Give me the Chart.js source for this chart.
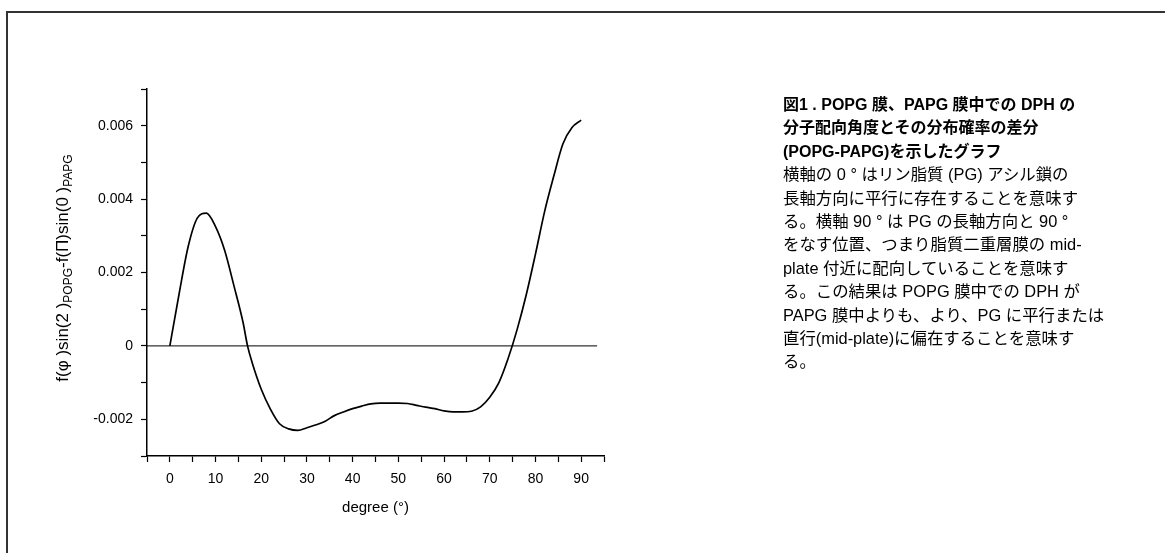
<!DOCTYPE html>
<html lang="ja">
<head>
<meta charset="utf-8">
<script src="https://cdn.jsdelivr.net/npm/chart.js@4.4.1/dist/chart.umd.min.js"></script>
<style>
    html, body { margin: 0; padding: 0; background: #fff; }
    body { width: 1165px; height: 553px; position: relative; overflow: hidden; }
    #frame {
        position: absolute; left: 6px; top: 11px; width: 1200px; height: 600px;
        border-top: 2px solid #333; border-left: 2px solid #333;
    }
    #chart { position: absolute; left: 0; top: 0; }
    #caption {
        position: absolute; left: 783px; top: 93px;
        font-family: "Liberation Sans", Arial, "Noto Sans CJK JP", sans-serif;
        font-size: 16.4px; line-height: 23.4px; color: #000; white-space: nowrap;
    }
    #caption b { font-weight: bold; font-size: 16px; }
</style>
</head>
<body>
<div id="frame"></div>
<canvas id="chart" width="1165" height="553"></canvas>
<div id="caption">
<b>図1 . POPG 膜、PAPG 膜中での DPH の<br>
分子配向角度とその分布確率の差分<br>
(POPG-PAPG)を示したグラフ</b><br>
横軸の 0 ° はリン脂質 (PG) アシル鎖の<br>
長軸方向に平行に存在することを意味す<br>
る。横軸 90 ° は PG の長軸方向と 90 °<br>
をなす位置、つまり脂質二重層膜の mid-<br>
plate 付近に配向していることを意味す<br>
る。この結果は POPG 膜中での DPH が<br>
PAPG 膜中よりも、より、PG に平行または<br>
直行(mid-plate)に偏在することを意味す<br>
る。
</div>
<script>
// degree (x) and POPG - PAPG difference (y)
const degrees = [0, 2, 4, 6, 8, 10, 12, 14, 16, 17, 18, 20, 22, 24, 26, 28, 30, 32, 34, 36, 38,
    40, 42, 44, 46, 48, 50, 52, 54, 56, 58, 60, 62, 64, 66, 68, 70, 72, 74, 76, 78, 80,
    82, 84, 86, 88, 90];
const diffValues = [0, 0.00140, 0.00270, 0.00348, 0.00362, 0.00325, 0.00260, 0.00165, 0.00065, 0,
    -0.00045, -0.00118, -0.00172, -0.00212, -0.00226, -0.00230, -0.00223, -0.00215, -0.00205,
    -0.00190, -0.00180, -0.00171, -0.00164, -0.00158, -0.00156, -0.00156, -0.00156, -0.00157,
    -0.00162, -0.00167, -0.00171, -0.00177, -0.00180, -0.00180, -0.00178, -0.00166, -0.00140,
    -0.00100, -0.00035, 0.00045, 0.00140, 0.00250, 0.00366, 0.00462, 0.00550, 0.00595, 0.00615];

const zeroLineX = [-5, 93.5];
const xMin = -5, xMax = 95, xStep = 5;
const yMin = -0.003, yMax = 0.007, yStep = 0.001;

const yTitleParts = [
    { text: 'f(φ )sin(2 )', sub: false },
    { text: 'POPG', sub: true },
    { text: '-f(Π)sin(0 )', sub: false },
    { text: 'PAPG', sub: true }
];

const fontFamily = '"Liberation Sans", Arial, sans-serif';

const yTitlePlugin = {
    id: 'yTitle',
    afterDraw(chart) {
        const ctx = chart.ctx;
        const mainFont = '17px ' + fontFamily;
        const subFont = '12px ' + fontFamily;
        ctx.save();
        let total = 0;
        yTitleParts.forEach(p => {
            ctx.font = p.sub ? subFont : mainFont;
            total += ctx.measureText(p.text).width;
        });
        ctx.translate(68, 268);
        ctx.rotate(-Math.PI / 2);
        ctx.fillStyle = '#000';
        ctx.textBaseline = 'alphabetic';
        let x = -total / 2;
        yTitleParts.forEach(p => {
            ctx.font = p.sub ? subFont : mainFont;
            ctx.fillText(p.text, x, p.sub ? 4 : 0);
            x += ctx.measureText(p.text).width;
        });
        ctx.restore();
    }
};

const ctx = document.getElementById('chart').getContext('2d');
new Chart(ctx, {
    type: 'line',
    data: {
        datasets: [{
            data: degrees.map((d, i) => ({ x: d, y: diffValues[i] })),
            borderColor: '#000',
            borderWidth: 1.7,
            pointRadius: 0,
            cubicInterpolationMode: 'monotone',
            fill: false
        }, {
            data: zeroLineX.map(d => ({ x: d, y: 0 })),
            borderColor: '#000',
            borderWidth: 1,
            pointRadius: 0,
            fill: false
        }]
    },
    options: {
        responsive: false,
        animation: false,
        layout: { padding: { left: 47, right: 561, top: 89, bottom: 32 } },
        plugins: {
            legend: { display: false },
            tooltip: { enabled: false }
        },
        scales: {
            x: {
                type: 'linear',
                min: xMin,
                max: xMax,
                afterFit: s => { s.height = 65; },
                border: { display: true, color: '#000', width: 1.5 },
                grid: { drawOnChartArea: false, drawTicks: true, tickLength: 6, color: '#000', tickColor: '#000', tickWidth: 1.2 },
                ticks: {
                    stepSize: xStep,
                    autoSkip: false,
                    maxRotation: 0,
                    padding: 9,
                    color: '#000',
                    font: { family: fontFamily, size: 14 },
                    callback: v => (Math.round(v) % 10 === 0 && v >= 0 && v <= 90) ? String(Math.round(v)) : ''
                },
                title: {
                    display: true,
                    text: 'degree (°)',
                    color: '#000',
                    font: { family: fontFamily, size: 15 },
                    padding: { top: 4, bottom: 4 }
                }
            },
            y: {
                min: yMin,
                max: yMax,
                afterFit: s => { s.width = 100; },
                border: { display: true, color: '#000', width: 1.5 },
                grid: { drawOnChartArea: false, drawTicks: true, tickLength: 6, color: '#000', tickColor: '#000', tickWidth: 1.2 },
                ticks: {
                    stepSize: yStep,
                    autoSkip: false,
                    padding: 8,
                    color: '#000',
                    font: { family: fontFamily, size: 14 },
                    callback: v => {
                        const k = Math.round(v * 1000);
                        if (k % 2 !== 0) return '';
                        return k === 0 ? '0' : (k / 1000).toFixed(3);
                    }
                }
            }
        }
    },
    plugins: [yTitlePlugin]
});
</script>
</body>
</html>
